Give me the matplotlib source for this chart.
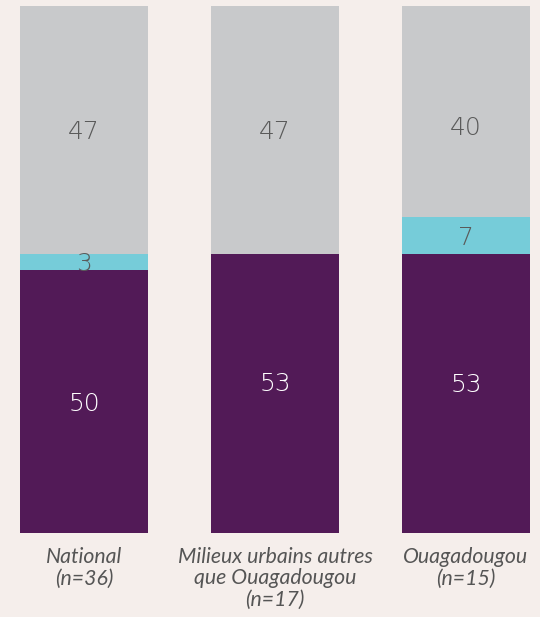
import matplotlib.pyplot as plt
import numpy as np

# Stacked shares (%) per area
categories = ["National\n(n=36)", "Milieux urbains autres\nque Ouagadougou\n(n=17)", "Ouagadougou\n(n=15)"]
bottom_vals = [50, 53, 53]
middle_vals = [3, 0, 7]
top_vals = [47, 47, 40]

purple = "#521a57"
cyan = "#76ccd9"
grey = "#c8c9cb"
bg = "#f5eeeb"

fig = plt.figure(figsize=(5.4, 6.17), dpi=100)
fig.patch.set_facecolor(bg)
ax = fig.add_axes([0, 84 / 617, 1, 527 / 617])
ax.set_facecolor(bg)

x = np.arange(len(categories))
w = 0.67
b = np.array(bottom_vals)
m = np.array(middle_vals)
t = np.array(top_vals)
ax.bar(x, b, w, color=purple)
ax.bar(x, m, w, bottom=b, color=cyan)
ax.bar(x, t, w, bottom=b + m, color=grey)

# small nudges so labels sit where the design puts them
shift_bottom = [0, 2.3, 2.0]
shift_top = [0, 0, -2.7]

num_font = dict(family="DejaVu Sans", fontweight=200, fontsize=18, ha="center", va="center_baseline")
for i in x:
    ax.text(i, b[i] / 2 + shift_bottom[i], str(b[i]), color="white", **num_font)
    if m[i] > 0:
        ax.text(i, b[i] + m[i] / 2, str(m[i]), color="#5a5a5a", **num_font)
    ax.text(i, b[i] + m[i] + t[i] / 2 + shift_top[i], str(t[i]), color="#5a5a5a", **num_font)

ax.set_xlim(-84 / 191, (540 - 84) / 191)
ax.set_ylim(0, 100)
ax.set_xticks(x)
ax.set_xticklabels(categories, family="Lato", style="italic", fontsize=15.3,
                   color="#555555", linespacing=1.1)
ax.tick_params(axis="x", length=0, pad=10)
ax.set_yticks([])
for s in ax.spines.values():
    s.set_visible(False)

fig.savefig("out.png", dpi=100, facecolor=bg)
